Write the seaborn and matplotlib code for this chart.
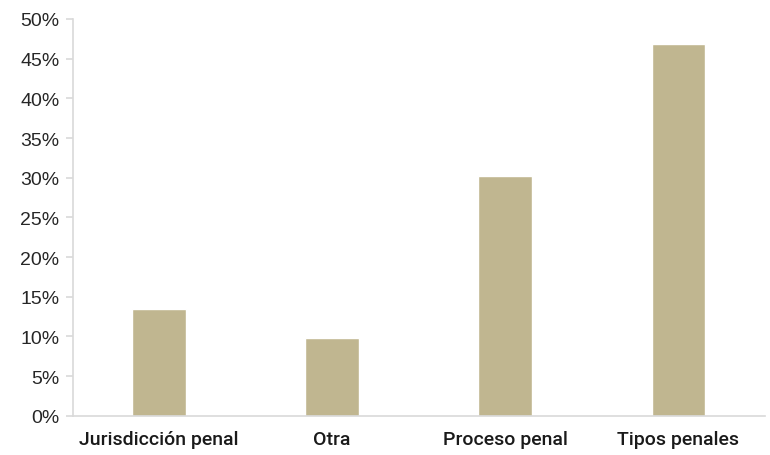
import matplotlib
matplotlib.use("Agg")
import matplotlib.pyplot as plt
import seaborn as sns
import pandas as pd
from matplotlib.ticker import PercentFormatter, MultipleLocator

categorias = ["Jurisdicción penal", "Otra", "Proceso penal", "Tipos penales"]
porcentajes = [13.45, 9.83, 30.17, 46.85]

df = pd.DataFrame({"categoria": categorias, "porcentaje": porcentajes})

sns.set_theme(style="white")
plt.rcParams["font.family"] = ["Liberation Sans", "DejaVu Sans"]

fig = plt.figure(figsize=(7.7, 4.56), dpi=100)
ax = fig.add_axes([72.5 / 770, 1 - 416.7 / 456, (765 - 72.5) / 770, (416.7 - 20) / 456])

sns.barplot(data=df, x="categoria", y="porcentaje", color="#c0b690",
            width=0.31, saturation=1, ax=ax)

ax.set_ylim(0, 50)
ax.set_xlim(-0.5, 3.5)
ax.yaxis.set_major_locator(MultipleLocator(5))
ax.yaxis.set_major_formatter(PercentFormatter(decimals=0))
ax.set_xlabel("")
ax.set_ylabel("")

for side in ["top", "right"]:
    ax.spines[side].set_visible(False)
for side in ["left", "bottom"]:
    ax.spines[side].set_color("#d9d9d9")
    ax.spines[side].set_linewidth(1.2)

ax.tick_params(axis="y", which="major", length=5, width=1.2, color="#d9d9d9",
               labelsize=14, labelcolor="#262626", pad=4.5, left=True)
ax.tick_params(axis="x", length=0, labelsize=14, labelcolor="#1a1a1a", pad=10)
for lbl in ax.get_xticklabels():
    lbl.set_fontfamily(["Roboto", "DejaVu Sans"])
    lbl.set_fontweight("medium")

fig.savefig("out.png", dpi=100)
